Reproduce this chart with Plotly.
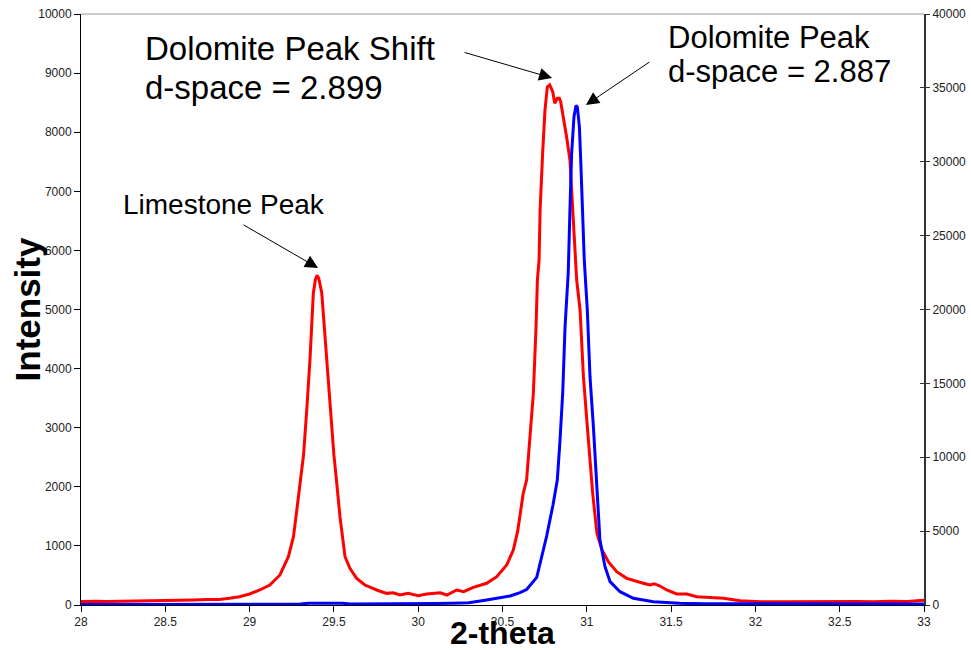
import plotly.graph_objects as go

# ---------------- data ----------------
red_x = [28.00, 28.05, 28.10, 28.15, 28.20, 28.25, 28.30, 28.35, 28.40, 28.47, 28.55, 28.60, 28.67,
         28.75, 28.82, 28.88, 28.94, 29.00, 29.06, 29.12, 29.18, 29.23, 29.26, 29.28, 29.30, 29.32,
         29.339, 29.358, 29.378, 29.39, 29.40, 29.41, 29.428, 29.457, 29.481, 29.50, 29.517, 29.536,
         29.566, 29.595, 29.635, 29.684, 29.754, 29.813, 29.852, 29.892, 29.94, 30.00, 30.05, 30.13,
         30.17, 30.228, 30.27, 30.327, 30.406, 30.466, 30.525, 30.564, 30.59, 30.604, 30.623, 30.643,
         30.668, 30.683, 30.699, 30.707, 30.717, 30.723, 30.738, 30.752, 30.766, 30.78, 30.798, 30.81,
         30.825, 30.837, 30.845, 30.865, 30.88, 30.90, 30.916, 30.93, 30.94, 30.96, 30.98, 31.00,
         31.015, 31.035, 31.06, 31.09, 31.128, 31.177, 31.237, 31.296, 31.335, 31.375, 31.40, 31.434,
         31.474, 31.533, 31.593, 31.652, 31.73, 31.81, 31.91, 32.03, 32.15, 32.30, 32.40, 32.50,
         32.60, 32.70, 32.80, 32.90, 33.00]
red_y = [60, 55, 62, 58, 60, 65, 62, 68, 65, 68, 75, 80, 85,
         92, 95, 115, 140, 186, 254, 338, 508, 817, 1156, 1607, 2064, 2540,
         3300, 4146, 5274, 5500, 5580, 5530, 5280, 4146, 3300, 2540, 2059, 1494,
         817, 620, 451, 338, 254, 197, 208, 169, 197, 158, 186, 208,
         169, 254, 225, 299, 367, 479, 677, 930, 1250, 1494, 1890, 2115,
         3017, 3582, 4709, 5500, 5838, 6684, 7643, 8376, 8770, 8800, 8685, 8489,
         8573, 8573, 8517, 8206, 7924, 7530, 6684, 5838, 5499, 4992, 3863, 3130,
         2600, 1890, 1213, 931, 733, 564, 451, 395, 367, 338, 360, 321,
         254, 186, 186, 141, 124, 113, 73, 56, 56, 60, 55, 62,
         58, 55, 65, 60, 80]

blue_x = [28.00, 28.50, 28.70, 29.00, 29.30, 29.35, 29.55, 29.60, 30.00, 30.10, 30.20, 30.30,
          30.406, 30.485, 30.545, 30.604, 30.643, 30.703, 30.762, 30.80, 30.825, 30.84, 30.857,
          30.871, 30.881, 30.89, 30.90, 30.91, 30.924, 30.936, 30.944, 30.956, 30.964, 30.976,
          30.985, 31.003, 31.019, 31.039, 31.059, 31.078, 31.108, 31.138, 31.197, 31.276, 31.395,
          31.55, 31.70, 32.00, 32.50, 33.00]
blue_y = [40, 40, 50, 50, 60, 120, 120, 60, 60, 100, 120, 150,
          340, 496, 609, 832, 1050, 1868, 4670, 6800, 8460, 10944, 14328,
          18836, 20500, 22500, 26736, 30572, 33048, 33800, 33700, 32372, 30120, 26736,
          23352, 19968, 15452, 12068, 8460, 4400, 2592, 1580, 900, 452, 224,
          112, 80, 70, 70, 70]

x_ticks = [28, 28.5, 29, 29.5, 30, 30.5, 31, 31.5, 32, 32.5, 33]
y_left_ticks = list(range(0, 10001, 1000))
y_right_ticks = list(range(0, 40001, 5000))

FONT = "Liberation Sans, Arial, Helvetica, sans-serif"

fig = go.Figure()
fig.add_trace(go.Scatter(x=red_x, y=red_y, mode="lines",
                         line=dict(color="#FF0000", width=3), yaxis="y", hoverinfo="skip"))
fig.add_trace(go.Scatter(x=blue_x, y=blue_y, mode="lines",
                         line=dict(color="#0000FF", width=3), yaxis="y2", hoverinfo="skip"))
# invisible trace to activate the tick-only third axis
fig.add_trace(go.Scatter(x=[28], y=[0], mode="markers", marker=dict(opacity=0),
                         yaxis="y3", hoverinfo="skip"))

tickfont = dict(family=FONT, size=12, color="#222222")

fig.update_layout(
    width=971, height=650,
    margin=dict(l=81, r=47, t=14, b=45, autoexpand=False),
    plot_bgcolor="white", paper_bgcolor="white",
    showlegend=False,
    font=dict(family=FONT),
    xaxis=dict(range=[28, 33], tickvals=x_ticks, ticktext=[f"{v:g}" for v in x_ticks],
               showline=True, linecolor="black", linewidth=1,
               ticks="outside", ticklen=6, tickcolor="black", automargin=False,
               showgrid=False, zeroline=False, tickfont=tickfont),
    yaxis=dict(range=[0, 10000], tickvals=y_left_ticks, ticktext=[str(v) for v in y_left_ticks],
               showline=True, linecolor="black", linewidth=1,
               ticks="outside", ticklen=6, tickcolor="black", automargin=False,
               showgrid=False, zeroline=False, tickfont=tickfont),
    yaxis2=dict(range=[0, 40000], tickvals=y_right_ticks, ticktext=[str(v) for v in y_right_ticks],
                overlaying="y", side="right", anchor="x",
                showline=True, linecolor="#333333", linewidth=2,
                ticks="outside", ticklen=4, tickcolor="#333333", automargin=False,
                showgrid=False, zeroline=False, tickfont=tickfont),
    yaxis3=dict(range=[0, 40000], tickvals=y_right_ticks,
                overlaying="y", side="right", anchor="x",
                showline=False, showticklabels=False, automargin=False,
                ticks="inside", ticklen=4, tickcolor="#333333",
                showgrid=False, zeroline=False),
    shapes=[dict(type="line", xref="paper", yref="paper", x0=0, x1=1, y0=1, y1=1,
                 line=dict(color="#999999", width=1))],
)

ann = []
# axis titles
ann.append(dict(text="<b>Intensity</b>", xref="paper", yref="paper", x=-0.0629, y=0.5,
                xanchor="center", yanchor="middle", textangle=-90, showarrow=False,
                font=dict(family=FONT, size=35, color="black")))
ann.append(dict(text="<b>2-theta</b>", xref="paper", yref="paper", x=0.5, y=-0.079,
                xanchor="center", yanchor="bottom", showarrow=False, borderpad=0,
                font=dict(family=FONT, size=32, color="black")))
# text labels
txt = [("Dolomite Peak Shift", 28.37, 9410, 33),
       ("d-space = 2.899", 28.37, 8760, 33),
       ("Dolomite Peak", 31.47, 9610, 31),
       ("d-space = 2.887", 31.47, 9030, 31),
       ("Limestone Peak", 28.235, 6780, 28)]
for t, x, y, s in txt:
    ann.append(dict(text=t, x=x, y=y, xref="x", yref="y", xanchor="left", yanchor="middle",
                    showarrow=False, font=dict(family=FONT, size=s, color="black")))
# arrows
arrows = [(29.406, 5702, -76, -44), (30.794, 8917, -89, -26), (30.995, 8460, 65, -44)]
for x, y, ax, ay in arrows:
    ann.append(dict(text="", x=x, y=y, xref="x", yref="y", ax=ax, ay=ay,
                    showarrow=True, arrowhead=2, arrowsize=2.6, arrowwidth=1,
                    arrowcolor="black"))
fig.update_layout(annotations=ann)

fig.write_html("out.html", config={"displayModeBar": False})
